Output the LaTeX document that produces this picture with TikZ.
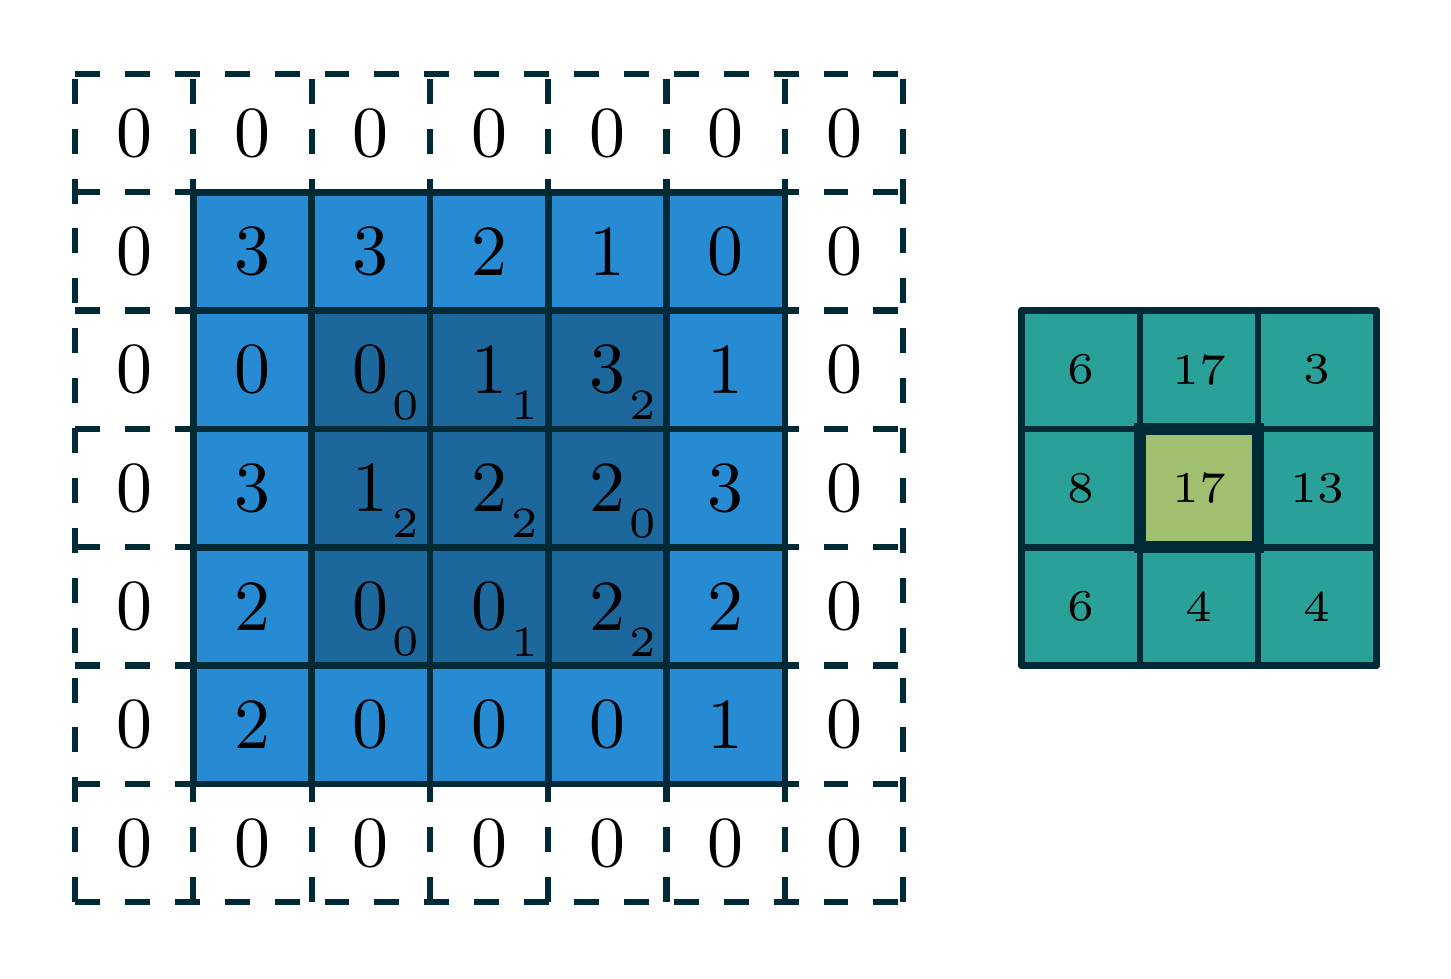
\documentclass[tikz,border=0pt]{standalone}
\usepackage{graphicx}
\definecolor{lineclr}{HTML}{002B36}
\definecolor{inblue}{HTML}{268BD2}
\definecolor{kblue}{HTML}{1C689D}
\definecolor{outcyan}{HTML}{2AA198}
\definecolor{hilite}{HTML}{A0C070}
\newcommand{\bigd}[1]{\scalebox{1.728}{#1}}
\newcommand{\subd}[1]{\scalebox{1.728}{#1}}
\newcommand{\outd}[1]{\scalebox{1.76}{#1}}
\begin{document}
\begin{tikzpicture}[x=1cm,y=1cm,
  gridline/.style={draw=lineclr,line width=1.6pt},
  padline/.style={draw=lineclr,line width=1.5pt,dash pattern=on 6pt off 6pt},
  bigdigit/.style={inner sep=0pt,font=\fontsize{10}{12}\selectfont},
  subdigit/.style={inner sep=0pt,font=\fontsize{6}{7}\selectfont},
  outdigit/.style={inner sep=0pt,font=\fontsize{6}{7}\selectfont}]
\useasboundingbox (-0.634,-0.642) rectangle (11.63,7.625);
% padding grid
\draw[padline] (0,0) grid (7,7);
% input
\fill[inblue] (1,1) rectangle (6,6);
\fill[kblue] (2,2) rectangle (5,5);
\draw[gridline] (1,1) grid (6,6);
\draw[gridline] (1,1) rectangle (6,6);
% padding zeros
\foreach \i in {0,...,6}{
  \node[bigdigit] (pb-\i) at (\i+0.5,0.5) {\bigd{0}};
  \node[bigdigit] (pt-\i) at (\i+0.5,6.5) {\bigd{0}};
}
\foreach \j in {1,...,5}{
  \node[bigdigit] (pl-\j) at (0.5,\j+0.5) {\bigd{0}};
  \node[bigdigit] (pr-\j) at (6.5,\j+0.5) {\bigd{0}};
}
% input values
\foreach \row [count=\r] in {{3,3,2,1,0},{0,0,1,3,1},{3,1,2,2,3},{2,0,0,2,2},{2,0,0,0,1}}{
  \foreach \v [count=\c] in \row {
    \node[bigdigit] (in-\r-\c) at (\c+0.5,6.5-\r) {\bigd{\v}};
  }
}
% kernel weights
\foreach \row [count=\r] in {{0,1,2},{2,2,0},{0,1,2}}{
  \foreach \v [count=\c] in \row {
    \node[subdigit] (k-\r-\c) at (\c+1.5+0.297,5.5-\r-0.3) {\subd{\v}};
  }
}
% output
\fill[outcyan] (8,2) rectangle (11,5);
\fill[hilite] (9,3) rectangle (10,4);
\draw[gridline,line cap=round] (8,2) grid (11,5);
\draw[gridline,line join=round] (8,2) rectangle (11,5);
\draw[draw=lineclr,line width=2.9pt] (9,3) rectangle (10,4);
\foreach \row [count=\r] in {{6,17,3},{8,17,13},{6,4,4}}{
  \foreach \v [count=\c] in \row {
    \node[outdigit] (out-\r-\c) at (\c+7.5,5.5-\r) {\outd{\v}};
  }
}
\end{tikzpicture}
\end{document}
